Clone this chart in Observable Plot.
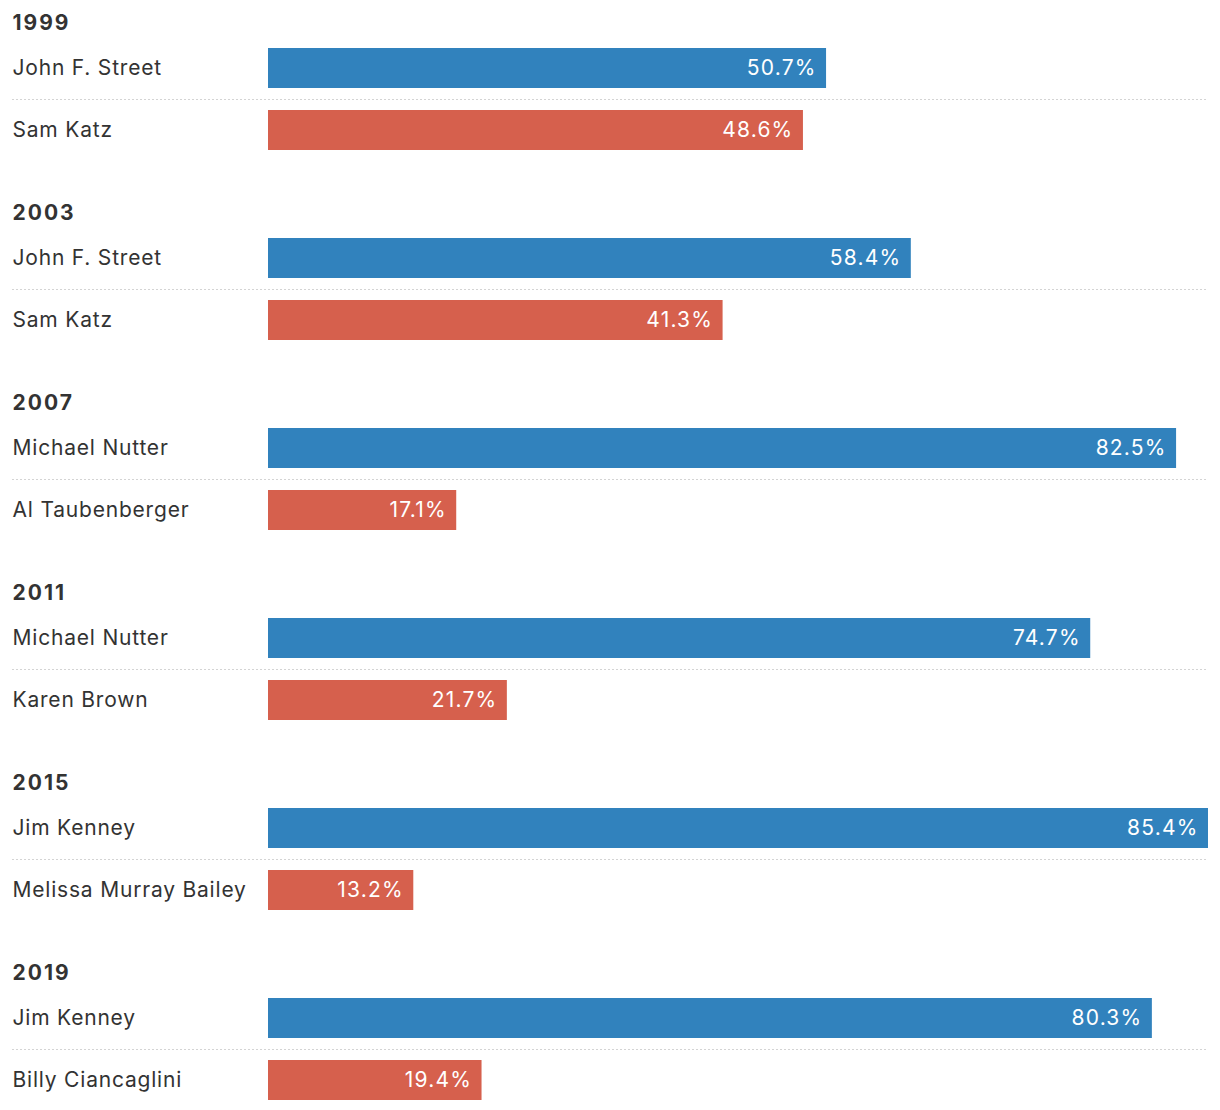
<!DOCTYPE html>
<html>
<head>
<meta charset="utf-8">
<script src="https://cdn.jsdelivr.net/npm/d3@7"></script>
<script src="https://cdn.jsdelivr.net/npm/@observablehq/plot@0.6"></script>
<style>
  html, body { margin: 0; padding: 0; background: #fff; }
  #chart svg { display: block; }
</style>
</head>
<body>
<div id="chart"></div>
<script>
const years = [1999, 2003, 2007, 2011, 2015, 2019];
const democrats = ["John F. Street", "John F. Street", "Michael Nutter", "Michael Nutter", "Jim Kenney", "Jim Kenney"];
const demPct = [50.7, 58.4, 82.5, 74.7, 85.4, 80.3];
const republicans = ["Sam Katz", "Sam Katz", "Al Taubenberger", "Karen Brown", "Melissa Murray Bailey", "Billy Ciancaglini"];
const repPct = [48.6, 41.3, 17.1, 21.7, 13.2, 19.4];
const parties = ["Democrat", "Republican"];
const partyColors = ["#3182bd", "#d6604d"];

const rows = [];
years.forEach((year, i) => {
  rows.push({year, rank: 0, party: parties[0], name: democrats[i], pct: demPct[i]});
  rows.push({year, rank: 1, party: parties[1], name: republicans[i], pct: repPct[i]});
});
const yearRows = years.map(year => ({year}));

const font = "Inter, 'Noto Sans', sans-serif";

const chart = Plot.plot({
  width: 1220,
  height: 1110,
  marginLeft: 268,
  marginRight: 12,
  marginTop: 37,
  marginBottom: -1,
  style: {fontFamily: font, background: "#fff"},
  x: {domain: [0, d3.max(demPct)], axis: null},
  y: {domain: [0, 1], axis: null, paddingInner: 22 / 62, paddingOuter: 11 / 62},
  fy: {domain: years, axis: null, paddingInner: 66 / 190, paddingOuter: 0},
  color: {domain: parties, range: partyColors},
  marks: [
    Plot.ruleY(yearRows, {
      fy: "year", y: () => 1, dy: -31,
      insetLeft: -256,
      stroke: "#d4d4d4", strokeWidth: 1.2, strokeDasharray: "2,2"
    }),
    Plot.barX(rows, {fy: "year", y: "rank", x: "pct", fill: "party"}),
    Plot.text(rows, {
      fy: "year", y: "rank", x: "pct",
      text: d => d.pct.toFixed(1) + "%",
      textAnchor: "end", dx: -10, fill: "white", fontSize: 21
    }),
    Plot.text(rows, {
      fy: "year", y: "rank", text: "name",
      frameAnchor: "left", textAnchor: "start", dx: -256,
      fill: "#333", fontSize: 21
    }),
    Plot.text(yearRows, {
      fy: "year", text: d => String(d.year),
      frameAnchor: "top-left", textAnchor: "start", lineAnchor: "middle",
      dx: -256, dy: -14,
      fill: "#333", fontSize: 21, fontWeight: "bold"
    })
  ]
});
document.getElementById("chart").appendChild(chart);

// widen letter spacing to approximate the original's wider typeface
const textGroups = d3.select(chart).selectAll('g[aria-label="text"]').nodes();
const spacings = [1.2, 0.8, 2];
textGroups.forEach((g, i) => d3.select(g).attr("letter-spacing", spacings[i] ?? 0));
</script>
</body>
</html>
